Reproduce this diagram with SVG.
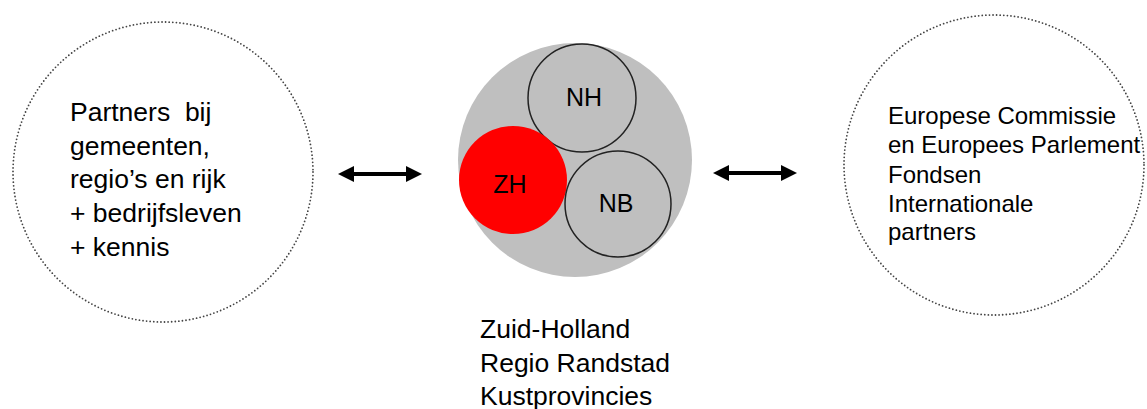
<svg xmlns="http://www.w3.org/2000/svg" width="1147" height="409" viewBox="0 0 1147 409">
<style>
.t{font-family:"Liberation Sans",Arial,sans-serif;fill:#000}
.dot{fill:none;stroke:#444;stroke-width:1.8;stroke-dasharray:0 3.6;stroke-linecap:round}
.sub{fill:#bfbfbf;stroke:#222;stroke-width:1.5}
.arr{stroke:#000;stroke-width:4;fill:none}
</style>
<defs>
<marker id="ah" viewBox="0 0 10 10" refX="5" refY="5" markerWidth="4" markerHeight="4" orient="auto-start-reverse" markerUnits="strokeWidth">
<path d="M0,0 L10,5 L0,10 z" fill="#000"/>
</marker>
</defs>
<g id="left-node">
<circle class="dot" cx="163" cy="172" r="150"/>
<text class="t" font-size="26.5"><tspan x="70" y="121">Partners&#160; bij</tspan><tspan x="70" y="155">gemeenten,</tspan><tspan x="70" y="188">regio’s en rijk</tspan><tspan x="70" y="222">+ bedrijfsleven</tspan><tspan x="70" y="256">+ kennis</tspan></text>
</g>
<g id="center-node">
<circle cx="575" cy="160" r="117" fill="#bfbfbf"/>
<g id="nh"><circle class="sub" cx="582" cy="98" r="54"/><text class="t" font-size="25" x="584" y="106" text-anchor="middle">NH</text></g>
<g id="zh"><circle cx="513" cy="180" r="54" fill="#ff0000"/><text class="t" font-size="25" x="510" y="193" text-anchor="middle">ZH</text></g>
<g id="nb"><circle class="sub" cx="618" cy="204" r="53"/><text class="t" font-size="25" x="616" y="212" text-anchor="middle">NB</text></g>
<text class="t" font-size="26.5"><tspan x="480" y="338">Zuid-Holland</tspan><tspan x="480" y="372">Regio Randstad</tspan><tspan x="480" y="405">Kustprovincies</tspan></text>
</g>
<g id="right-node">
<circle class="dot" cx="994" cy="165" r="150"/>
<text class="t" font-size="24"><tspan x="888" y="124">Europese Commissie</tspan><tspan x="888" y="153">en Europees Parlement</tspan><tspan x="888" y="183">Fondsen</tspan><tspan x="888" y="212">Internationale</tspan><tspan x="888" y="240">partners</tspan></text>
</g>
<g id="connectors">
<line class="arr" x1="346" y1="174" x2="414" y2="174" marker-start="url(#ah)" marker-end="url(#ah)"/>
<line class="arr" x1="721" y1="173" x2="789" y2="173" marker-start="url(#ah)" marker-end="url(#ah)"/>
</g>
</svg>
